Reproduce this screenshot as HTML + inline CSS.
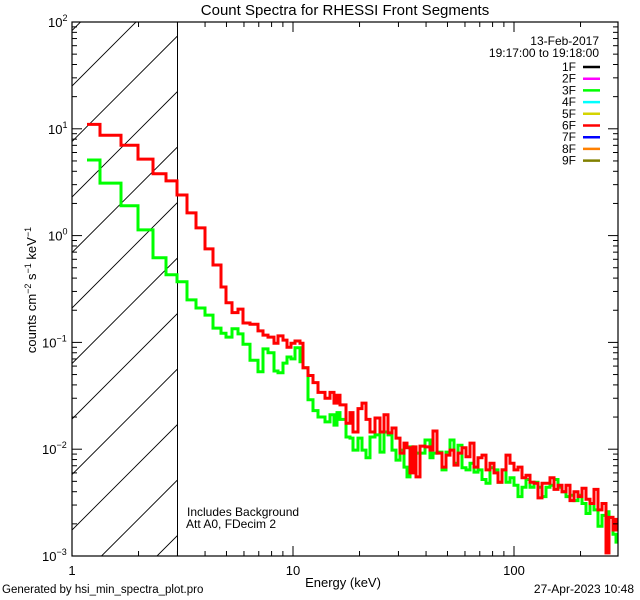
<!DOCTYPE html>
<html><head><meta charset="utf-8"><style>
html,body{margin:0;padding:0;background:#fff;width:640px;height:600px;overflow:hidden;}
svg{display:block;font-family:"Liberation Sans",sans-serif;}
</style></head><body>
<svg id="chart" width="640" height="600" viewBox="0 0 640 600">
<rect x="0" y="0" width="640" height="600" fill="#fff"/>
<defs><clipPath id="hclip"><rect x="72" y="22" width="105.5" height="534"/></clipPath>
<clipPath id="pclip"><rect x="72" y="22" width="546" height="534"/></clipPath></defs>
<g id="hatch" clip-path="url(#hclip)"></g>
<line x1="177.5" y1="22" x2="177.5" y2="556" stroke="#000" stroke-width="1"/>
<g id="series" clip-path="url(#pclip)"></g>
<rect x="72" y="22" width="546" height="534" fill="none" stroke="#000" stroke-width="1.2"/>
<g id="ticks"></g>
<text x="345" y="15" font-size="15" text-anchor="middle">Count Spectra for RHESSI Front Segments</text>
<text x="343" y="587" font-size="13" text-anchor="middle">Energy (keV)</text>
<text transform="translate(36,290) rotate(-90)" font-size="13" text-anchor="middle">counts cm<tspan font-size="9" dy="-5">−2</tspan><tspan dy="5"> s</tspan><tspan font-size="9" dy="-5">−1</tspan><tspan dy="5"> keV</tspan><tspan font-size="9" dy="-5">−1</tspan></text>
<text x="2" y="593" font-size="11.5">Generated by hsi_min_spectra_plot.pro</text>
<text x="634" y="593" font-size="12" text-anchor="end">27-Apr-2023 10:48</text>
<text x="187" y="516" font-size="12">Includes Background</text>
<text x="186" y="528" font-size="12">Att A0, FDecim 2</text>
<text x="599" y="45" font-size="12" text-anchor="end">13-Feb-2017</text>
<text x="599" y="57" font-size="12" text-anchor="end">19:17:00 to 19:18:00</text>
<g id="legend"></g>
</svg>
<script>
const energyEdges = [1.169,1.339,1.666,1.989,2.326,2.663,2.987,3.314,3.640,3.998,4.345,4.723,4.975,5.297,5.638,5.939,6.389,6.944,7.316,7.707,8.204,8.555,9.013,9.396,9.79,10.21,10.76,
11.10,11.69,12.32,12.97,13.96,14.71,15.33,15.82,16.32,17.37,18.11,18.69,19.69,20.52,21.40,22.30,23.50,24.76,25.81,26.91,28.05,29.25,30.49,31.79,32.79,33.83,34.91,36.03,37.56,39.56,41.69,43.00,44.83,47.23,49.24,51.34,
53.52,55.80,58.18,60.66,63.24,65.93,68.74,71.67,74.72,77.90,81.22,84.68,88.28,92.04,95.96,100.0,104.3,108.7,113.3,118.1,123.2,128.4,133.9,139.6,145.5,151.7,158.2,164.9,171.9,179.2,186.9,194.8,203.1,211.8,220.8,230.1,239.9,250.2,260.8,
269.2,280.5,289.4,295.5];
const counts6F = [11,8.7,7.0,5.2,3.8,3.25,2.4,1.63,1.18,0.75,0.53,0.33,0.235,0.19,0.205,0.152,0.148,0.128,0.117,0.112,0.098,0.115,0.105,0.090,0.098,0.103,
0.098,0.058,0.049,0.042,0.034,0.030,0.034,0.027,0.032,0.026,0.0175,0.022,0.0145,0.024,0.027,0.019,0.0145,0.0196,0.0145,0.021,0.0142,0.0158,0.0127,0.0092,0.0114,0.0103,0.0060,0.0105,0.0055,0.0107,0.0105,0.0098,0.0148,0.0092,0.0068,0.0088,
0.0098,0.0071,0.0092,0.0103,0.0085,0.0114,0.0068,0.0083,0.0088,0.0064,0.0074,0.0060,0.0049,0.0064,0.0088,0.0074,0.0064,0.0068,0.0054,0.0057,0.0049,0.0048,0.0035,0.0048,0.0048,0.0054,0.0042,0.0046,0.0040,0.0046,0.0033,0.0040,0.0036,0.0043,0.0034,0.0031,0.0042,0.0027,0.0031,
0.00107,0.0023,0.00175,0.0022];
const counts3F = [5.1,3.1,1.9,1.13,0.62,0.43,0.37,0.25,0.21,0.18,0.136,0.122,0.112,0.134,0.120,0.096,0.068,0.053,0.087,0.080,0.054,0.052,0.064,0.073,0.070,0.089,
0.066,0.058,0.029,0.023,0.020,0.018,0.021,0.0168,0.022,0.019,0.013,0.0127,0.0098,0.0127,0.0098,0.0083,0.013,0.0136,0.0094,0.0145,0.0136,0.0098,0.0079,0.0098,0.0068,0.0055,0.0105,0.0092,0.0092,0.0092,0.0122,0.0083,0.0092,0.0094,0.0064,0.0094,
0.0122,0.0074,0.0109,0.0067,0.0064,0.0074,0.0061,0.0064,0.0052,0.0048,0.0067,0.0064,0.0049,0.0064,0.0049,0.0054,0.0046,0.0036,0.0044,0.0052,0.0044,0.0049,0.0044,0.0036,0.0044,0.0046,0.0052,0.0044,0.0040,0.0036,0.0037,0.0033,0.0037,0.0031,0.0025,0.0031,0.0027,0.0019,0.0024,
0.0026,0.0023,0.0016,0.00135];
const xTickValues = [1,10,100];
const xTickLabels = ["1","10","100"];
const yTickExps = [-3,-2,-1,0,1,2];
const legendLabels = ["1F","2F","3F","4F","5F","6F","7F","8F","9F"];
const legendColors = ["#000000","#ff00ff","#00ff00","#00ffff","#d4d400","#ff0000","#0000ff","#ff8000","#808000"];

const NS="http://www.w3.org/2000/svg";
const X0=72,X1=618,Y0=22,Y1=556;
const xDec=221, yDec=(Y1-Y0)/5;
function xs(e){return X0+Math.log10(e)*xDec;}
function ys(v){return Y1-(Math.log10(v)+3)*yDec;}
function mk(tag,attrs,parent){const el=document.createElementNS(NS,tag);for(const k in attrs)el.setAttribute(k,attrs[k]);parent.appendChild(el);return el;}

// hatch (lines y = c - x, restricted to the hatched strip)
const hatch=document.getElementById('hatch');
const HX1=177.5;
for(let c=158-55.5;c<Y1+HX1+60;c+=55.5){
  let xa=X0, xb=HX1;
  xa=Math.max(xa,c-Y1); xb=Math.min(xb,c-Y0);
  if(xb<=xa) continue;
  const l=mk('line',{x1:xa,y1:c-xa,x2:xb,y2:c-xb,stroke:'#000','stroke-width':0.9},hatch);
  
  
}

// series
const sg=document.getElementById('series');
function stepPath(vals){
  let d='';
  for(let i=0;i<vals.length;i++){
    const xa=xs(energyEdges[i]).toFixed(1),xb=xs(energyEdges[i+1]).toFixed(1),y=Math.min(Y1,ys(vals[i])).toFixed(1);
    d+=(i===0?'M':'L')+xa+','+y+'L'+xb+','+y;
  }
  return d;
}
const g3=mk('path',{d:stepPath(counts3F),fill:'none',stroke:'#00ff00','stroke-width':3,'stroke-linejoin':'miter'},sg);


const g6=mk('path',{d:stepPath(counts6F),fill:'none',stroke:'#ff0000','stroke-width':3,'stroke-linejoin':'miter'},sg);



// ticks
const tg=document.getElementById('ticks');
for(let d=0;d<3;d++){
  for(let m=1;m<=9;m++){
    const e=Math.pow(10,d)*m; const x=xs(e); if(x>X1) continue;
    const len=m===1?10:5;
    const t1=mk('line',{x1:x,y1:Y1,x2:x,y2:Y1-len,stroke:'#000','stroke-width':1},tg);
    
    
    const t2=mk('line',{x1:x,y1:Y0,x2:x,y2:Y0+len,stroke:'#000','stroke-width':1},tg);
    
    
  }
}
xTickValues.forEach((v,i)=>{
  const t=mk('text',{x:xs(v),y:575,'font-size':13,'text-anchor':'middle'},tg);
  t.textContent=xTickLabels[i];
  
  
});
yTickExps.forEach(p=>{
  for(let m=1;m<=9;m++){
    if(p===2&&m>1) break;
    const v=Math.pow(10,p)*m; const y=ys(v); const len=m===1?10:5;
    const a=mk('line',{x1:X0,y1:y,x2:X0+len,y2:y,stroke:'#000','stroke-width':1},tg);
    
    
    const b=mk('line',{x1:X1,y1:y,x2:X1-len,y2:y,stroke:'#000','stroke-width':1},tg);
    
    
  }
  const y=ys(Math.pow(10,p));
  const t=mk('text',{x:p<0?42:48,y:y+5,'font-size':13},tg);
  t.textContent='10';
  const s=mk('tspan',{'font-size':9,dy:-6},t);
  s.textContent=(p<0?'−':'')+Math.abs(p);
  
  
});

// legend
const lg=document.getElementById('legend');
legendLabels.forEach((lab,i)=>{
  const y=67+i*11.7;
  const t=mk('text',{x:576,y:y+4,'font-size':12,'text-anchor':'end'},lg);
  t.textContent=lab;
  
  
  const l=mk('line',{x1:583,y1:y,x2:600,y2:y,stroke:legendColors[i],'stroke-width':2.5},lg);
  
  
});
</script>
</body></html>
